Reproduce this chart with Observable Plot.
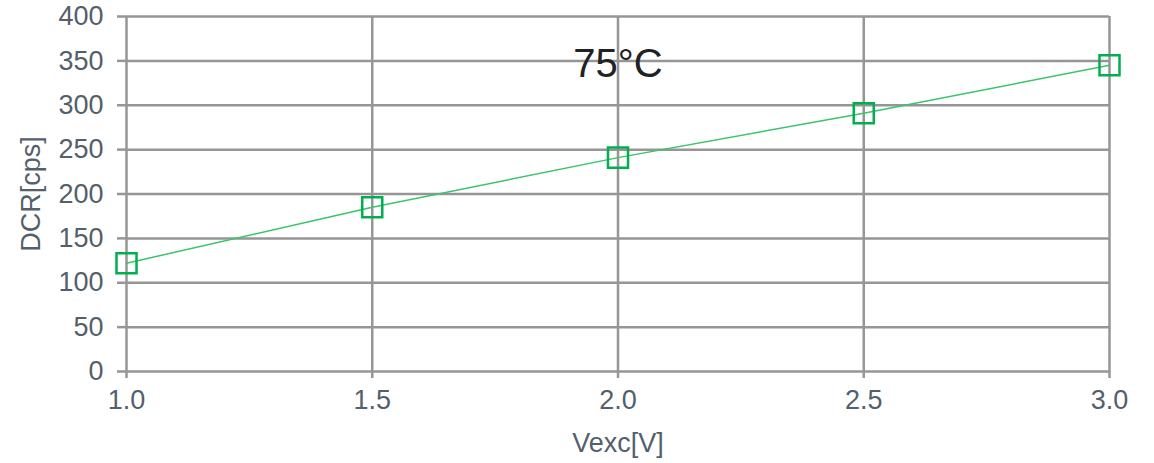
<!DOCTYPE html>
<html>
<head>
<meta charset="utf-8">
<script src="https://cdn.jsdelivr.net/npm/d3@7"></script>
<script src="https://cdn.jsdelivr.net/npm/@observablehq/plot@0.6"></script>
<style>
  html, body { margin: 0; padding: 0; background: #fff; }
  #chart svg { display: block; }
</style>
</head>
<body>
<div id="chart"></div>
<script>
const vexc = [1.0, 1.5, 2.0, 2.5, 3.0];
const dcr = [122, 185, 241, 291, 345];
const xTicks = [1.0, 1.5, 2.0, 2.5, 3.0];
const yTicks = [0, 50, 100, 150, 200, 250, 300, 350, 400];
const seriesLabel = "75°C";
const labelX = 2.0;
const labelY = 346;

const data = vexc.map((v, i) => ({x: v, y: dcr[i]}));

const gridColor = "#969696";
const textColor = "#535f6a";
const green = "#00b04f";
const lineGreen = "#3cc36b";

const plot = Plot.plot({
  width: 1154,
  height: 463,
  marginLeft: 126,
  marginRight: 45,
  marginTop: 16,
  marginBottom: 92,
  style: {fontFamily: "Arial, 'Liberation Sans', sans-serif", fontSize: "27px", color: textColor, background: "#fff"},
  x: {domain: [1, 3], ticks: xTicks, tickFormat: d3.format(".1f"), label: "Vexc[V]", labelAnchor: "center", labelArrow: false},
  y: {domain: [0, 400], ticks: yTicks, label: "DCR[cps]", labelAnchor: "center", labelArrow: false},
  marks: [
    Plot.gridX(xTicks, {stroke: gridColor, strokeOpacity: 1, strokeWidth: 2.5}),
    Plot.gridY(yTicks, {stroke: gridColor, strokeOpacity: 1, strokeWidth: 2.5}),
    Plot.axisX(xTicks, {tickSize: 7, tickPadding: 11, stroke: gridColor, strokeWidth: 2.5, fill: textColor, fontSize: 27, tickFormat: d3.format(".1f"), label: "Vexc[V]", labelAnchor: "center", labelOffset: 80, labelArrow: false}),
    Plot.axisY(yTicks, {tickSize: 9, tickPadding: 14, stroke: gridColor, strokeWidth: 2.5, fill: textColor, fontSize: 27, label: "DCR[cps]", labelAnchor: "center", labelOffset: 106, labelArrow: false}),
    Plot.line(data, {x: "x", y: "y", stroke: lineGreen, strokeWidth: 1.5}),
    Plot.dot(data, {x: "x", y: "y", symbol: "square", r: 11.3, stroke: green, strokeWidth: 2.5, fill: "none"}),
    Plot.text([seriesLabel], {x: () => labelX, y: () => labelY, text: d => d, fontSize: 40, fill: "#222", className: "series-label"})
  ]
});

document.getElementById("chart").appendChild(plot);

// white box behind the series label
const svg = d3.select(plot);
svg.selectAll("g.series-label text, .series-label text").each(function() {
  const bb = this.getBBox();
  d3.select(this.parentNode).insert("rect", () => this)
    .attr("x", bb.x - 6).attr("y", bb.y + 2)
    .attr("width", bb.width + 12).attr("height", bb.height - 2)
    .attr("fill", "#fff");
});
</script>
</body>
</html>
